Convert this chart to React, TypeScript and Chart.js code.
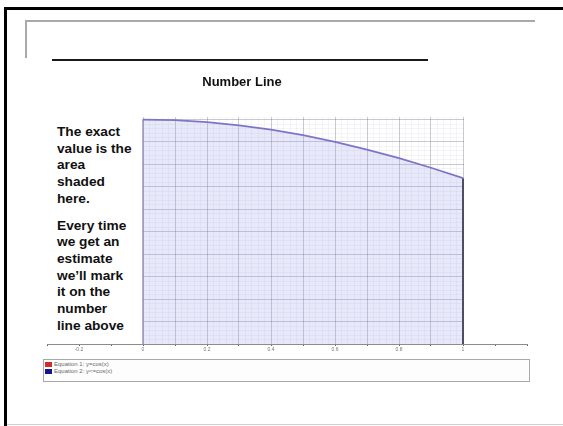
import React, { useEffect, useRef } from 'react';
import { Chart, registerables } from 'chart.js';

Chart.register(...registerables);

// ---- data ----
const xValues = [0, 0.1, 0.2, 0.3, 0.4, 0.5, 0.6, 0.7, 0.8, 0.9, 1];
const cosValues = [1, 0.995, 0.98, 0.955, 0.921, 0.878, 0.825, 0.765, 0.697, 0.622, 0.54];
const xTickValues = [-0.2, 0, 0.2, 0.4, 0.6, 0.8, 1];
const xTickLabels = ['-0.2', '0', '0.2', '0.4', '0.6', '0.8', '1'];
const seriesNames = ['Equation 1: y=cos(x)', 'Equation 2: y<=cos(x)'];
const legendColors = ['#d42a2a', '#16168c'];
const titleText = 'Number Line';
const noteParagraphs = [
  ['The exact', 'value is the', 'area', 'shaded', 'here.'],
  ['Every time', 'we get an', 'estimate', 'we\u2019ll mark', 'it on the', 'number', 'line above'],
];

// axis windows
const X_MIN = -0.3;
const X_MAX = 1.2;
const Y_MIN = -0.76;
const Y_MAX = 1.02;
const Y_GRID_TOP = 1;
const Y_GRID_STEP = 0.176;
const REGION_FROM = 0;
const REGION_TO = 1;

const FONT = '"Liberation Sans", Arial, Helvetica, sans-serif';
const MAJOR = 'rgba(120,120,145,0.40)';
const MINOR = 'rgba(130,130,170,0.08)';
const CLEAR = 'rgba(0,0,0,0)';

const near = (a: number, b: number) => Math.abs(a - b) < 1e-6;
const isXMajor = (v: number) => near(v * 10, Math.round(v * 10));
const isYMajor = (v: number) => {
  const k = (Y_GRID_TOP - v) / Y_GRID_STEP;
  return near(k, Math.round(k));
};

const xGridTicks: number[] = [];
for (let i = 0; ; i++) {
  const v = Math.round((X_MIN + i * 0.02) * 1000) / 1000;
  if (v > X_MAX + 1e-9) break;
  xGridTicks.push(v);
}
const yGridTicks: number[] = [];
for (let k = 0; ; k++) {
  const v = Y_GRID_TOP - (k * Y_GRID_STEP) / 5;
  if (v < Y_MIN - 1e-6) break;
  yGridTicks.push(v);
}

const maskPlugin = {
  id: 'maskOutside',
  beforeDatasetsDraw(chart: any) {
    const { ctx, chartArea, scales } = chart;
    const x0 = scales.x.getPixelForValue(REGION_FROM);
    const x1 = scales.x.getPixelForValue(REGION_TO);
    const h = chartArea.bottom - chartArea.top - 1;
    ctx.save();
    ctx.fillStyle = '#ffffff';
    ctx.fillRect(chartArea.left, chartArea.top, x0 - chartArea.left - 1, h);
    ctx.fillRect(x1 + 1, chartArea.top, chartArea.right - x1, h);
    ctx.restore();
  },
};

export default function App() {
  const ref = useRef<HTMLCanvasElement>(null);

  useEffect(() => {
    if (!ref.current) return;
    const curve = xValues.map((x, i) => ({ x, y: cosValues[i] }));
    const region = [{ x: REGION_FROM, y: Y_MIN }, ...curve, { x: REGION_TO, y: Y_MIN }];
    const last = region.length - 2;

    const chart = new Chart(ref.current, {
      type: 'scatter',
      data: {
        datasets: [
          {
            label: seriesNames[0],
            data: curve,
            showLine: true,
            borderColor: '#7d76c6',
            borderWidth: 1.8,
            pointRadius: 0,
            tension: 0,
            fill: false,
          },
          {
            label: seriesNames[1],
            data: region,
            showLine: true,
            borderColor: CLEAR,
            borderWidth: 1.5,
            backgroundColor: 'rgba(160,160,240,0.24)',
            pointRadius: 0,
            tension: 0,
            fill: 'start',
            segment: {
              borderColor: (c: any) =>
                c.p0DataIndex === 0 ? '#9494ba' : c.p0DataIndex === last ? '#4e4e62' : CLEAR,
              borderWidth: (c: any) => (c.p0DataIndex === last ? 2 : 1.5),
            },
          } as any,
        ],
      },
      options: {
        responsive: false,
        animation: false,
        devicePixelRatio: 1,
        layout: { padding: { left: 47, right: 36, top: 117, bottom: 72 } },
        plugins: {
          legend: { display: false },
          tooltip: { enabled: false },
          title: { display: false },
        },
        scales: {
          x: {
            type: 'linear',
            min: X_MIN,
            max: X_MAX,
            afterBuildTicks: (axis: any) => {
              axis.ticks = xGridTicks.map((v) => ({ value: v }));
            },
            grid: {
              drawTicks: true,
              tickLength: 2,
              color: (c: any) => {
                const v = c.tick ? c.tick.value : NaN;
                if (!(v >= REGION_FROM - 1e-6 && v <= REGION_TO + 1e-6)) return CLEAR;
                return isXMajor(v) ? MAJOR : MINOR;
              },
              tickColor: (c: any) => {
                const v = c.tick ? c.tick.value : NaN;
                return isXMajor(v) ? '#606060' : CLEAR;
              },
            },
            border: { display: true, color: '#8c8c8c', width: 1 },
            ticks: {
              autoSkip: false,
              maxRotation: 0,
              minRotation: 0,
              padding: 1,
              color: '#7a7a7a',
              font: { size: 5, family: FONT },
              callback: (value: any) => {
                const i = xTickValues.findIndex((t) => near(t, Number(value)));
                return i >= 0 ? xTickLabels[i] : '';
              },
            },
          },
          y: {
            type: 'linear',
            min: Y_MIN,
            max: Y_MAX,
            afterBuildTicks: (axis: any) => {
              axis.ticks = yGridTicks.map((v) => ({ value: v }));
            },
            grid: {
              drawTicks: false,
              color: (c: any) => {
                const v = c.tick ? c.tick.value : NaN;
                if (isNaN(v)) return CLEAR;
                return isYMajor(v) ? MAJOR : MINOR;
              },
            },
            border: { display: false },
            ticks: { display: false },
          },
        },
      },
      plugins: [maskPlugin],
    } as any);

    return () => chart.destroy();
  }, []);

  const abs = (s: React.CSSProperties): React.CSSProperties => ({ position: 'absolute', ...s });

  return (
    <div
      style={abs({
        left: 0,
        top: 0,
        width: 563,
        height: 426,
        background: '#ffffff',
        overflow: 'hidden',
        fontFamily: FONT,
      })}
    >
      <canvas
        ref={ref}
        width={563}
        height={426}
        style={abs({ left: 0, top: 0, width: 563, height: 426 })}
      />

      {/* slide frame */}
      <div style={abs({ left: 4, top: 7, width: 559, height: 3, background: '#000' })} />
      <div style={abs({ left: 4, top: 7, width: 3, height: 419, background: '#000' })} />
      <div style={abs({ left: 7, top: 424, width: 556, height: 1, background: '#cfcfcf' })} />

      {/* header bracket */}
      <div style={abs({ left: 25, top: 20, width: 510, height: 2, background: '#a9a9a9' })} />
      <div style={abs({ left: 25, top: 20, width: 2, height: 38, background: '#a9a9a9' })} />
      <div style={abs({ left: 52, top: 59, width: 376, height: 2, background: '#1a1a1a' })} />

      {/* title */}
      <div
        style={abs({
          left: 0,
          top: 74,
          width: 484,
          textAlign: 'center',
          fontWeight: 'bold',
          fontSize: 13,
          lineHeight: '15px',
          color: '#111',
        })}
      >
        {titleText}
      </div>

      {/* note box */}
      <div
        style={abs({
          left: 46,
          top: 118,
          width: 96,
          height: 226,
          background: '#ffffff',
          boxSizing: 'border-box',
          paddingLeft: 11,
          paddingTop: 6,
          fontWeight: 'bold',
          fontSize: 13.7,
          lineHeight: '16.7px',
          color: '#111',
        })}
      >
        {noteParagraphs.map((lines, p) => (
          <div key={p} style={{ marginTop: p === 0 ? 0 : 10 }}>
            {lines.map((l, i) => (
              <div key={i} style={{ whiteSpace: 'nowrap' }}>
                {l}
              </div>
            ))}
          </div>
        ))}
      </div>

      {/* legend */}
      <div
        style={abs({
          left: 43,
          top: 359,
          width: 487,
          height: 23,
          boxSizing: 'border-box',
          border: '1px solid #a8a8a8',
          background: '#fdfdfd',
          paddingTop: 1,
          paddingLeft: 1,
        })}
      >
        {seriesNames.map((name, i) => (
          <div
            key={i}
            style={{
              display: 'flex',
              alignItems: 'center',
              height: 7,
              fontSize: 6,
              lineHeight: '7px',
              color: '#6a6a6a',
              whiteSpace: 'nowrap',
            }}
          >
            <span
              style={{
                display: 'inline-block',
                width: 7,
                height: 5,
                background: legendColors[i],
                marginRight: 2,
              }}
            />
            {name}
          </div>
        ))}
      </div>
    </div>
  );
}
